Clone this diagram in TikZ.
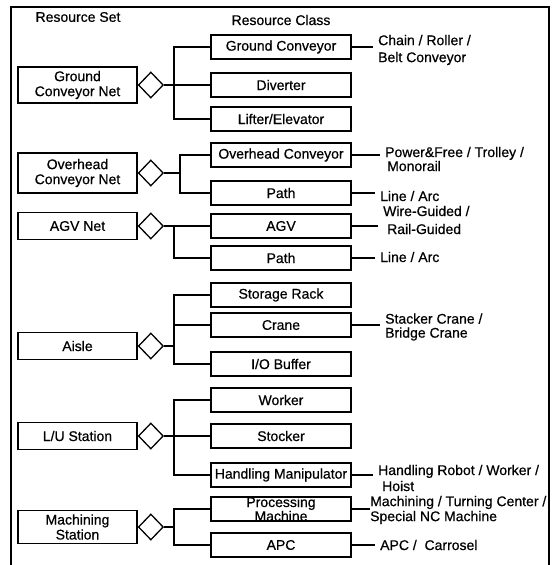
\documentclass[tikz,border=0pt]{standalone}
\usepackage{fontspec}
\setmainfont{Liberation Sans}[FakeBold=0.6]
\usetikzlibrary{shapes.geometric}
\begin{document}
\begin{tikzpicture}[x=1pt,y=-1pt,
  every node/.style={font=\fontsize{14}{15}\selectfont},
  setbox/.style={draw, line width=1.4pt, minimum width=119pt, align=center, inner sep=0pt},
  classbox/.style={draw, line width=1.4pt, minimum width=140pt, minimum height=24pt, inner sep=0pt},
  agg/.style={draw, diamond, line width=1.3pt, inner sep=0pt, minimum width=25pt, minimum height=26pt, anchor=west},
  conn/.style={line width=1.1pt},
  lbl/.style={anchor=west, align=left, inner xsep=5pt, inner ysep=0pt},
  hdr/.style={inner sep=0pt}]
\useasboundingbox (0,0) rectangle (554,565);
\draw[line width=1.5pt] (11,566) -- (11,7) -- (549,7) -- (549,566);

\node[hdr] (hset) at (78,17) {Resource Set};
\node[hdr] (hclass) at (281,20) {Resource Class};

% Group 1
\node[setbox, minimum height=36pt] (gcn) at (77.5,85) {Ground\\Conveyor Net};
\node[agg] (d1) at (gcn.east) {};
\node[classbox] (gc) at (281,47) {Ground Conveyor};
\node[classbox] (div) at (281,85) {Diverter};
\node[classbox] (lift) at (281,119) {Lifter/Elevator};
\coordinate (t1) at (174,85);
\draw[conn] (d1.east) -- (div.west);
\draw[conn] (gc.west) -| (t1);
\draw[conn] (lift.west) -| (t1);
\node[lbl, font=\fontsize{14}{17}\selectfont] (l1) at (373,50) {Chain / Roller /\\Belt Conveyor};
\draw[conn] (gc.east) -- (gc.east -| l1.west);

% Group 2
\node[setbox, minimum height=40pt] (ocn) at (77.5,173) {Overhead\\Conveyor Net};
\node[agg] (d2) at (ocn.east) {};
\node[classbox] (oc) at (281,155) {Overhead Conveyor};
\node[classbox] (path1) at (281,193) {Path};
\coordinate (t2) at (180,173);
\draw[conn] (d2.east) -- (t2);
\draw[conn] (oc.west) -| (t2);
\draw[conn] (path1.west) -| (t2);
\node[lbl, font=\fontsize{14}{14}\selectfont] (l2) at (380,159) {Power\&Free / Trolley /\\\hspace*{2pt}Monorail};
\draw[conn] (oc.east) -- (oc.east -| l2.west);
\node[lbl] (l3) at (375,196) {Line / Arc};
\draw[conn] (path1.east) -- (path1.east -| l3.west);

% Group 3
\node[setbox, minimum height=27pt] (agvn) at (77.5,226) {AGV Net};
\node[agg] (d3) at (agvn.east) {};
\node[classbox] (agv) at (281,226) {AGV};
\node[classbox] (path2) at (281,258) {Path};
\coordinate (t3) at (174,226);
\draw[conn] (d3.east) -- (agv.west);
\draw[conn] (path2.west) -| (t3);
\node[lbl, font=\fontsize{14}{18}\selectfont] (l4) at (378,220) {Wire-Guided /\\\hspace*{4pt}Rail-Guided};
\draw[conn] (agv.east) -- (agv.east -| l4.west);
\node[lbl] (l5) at (375,257) {Line / Arc};
\draw[conn] (path2.east) -- (path2.east -| l5.west);

% Group 4
\node[setbox, minimum height=27pt] (aisle) at (77.5,346) {Aisle};
\node[agg] (d4) at (aisle.east) {};
\node[classbox] (rack) at (281,295) {Storage Rack};
\node[classbox] (crane) at (281,325) {Crane};
\node[classbox] (iob) at (281,364) {I/O Buffer};
\coordinate (t4) at (174,346);
\draw[conn] (d4.east) -- (t4);
\draw[conn] (rack.west) -| (t4);
\draw[conn] (iob.west) -| (t4);
\draw[conn] (crane.west) -- (crane.west -| t4);
\node[lbl, font=\fontsize{14}{14}\selectfont] (l6) at (380,327) {Stacker Crane /\\Bridge Crane};
\draw[conn] (crane.east) -- (crane.east -| l6.west);

% Group 5
\node[setbox, minimum height=27pt] (lu) at (77.5,436) {L/U Station};
\node[agg] (d5) at (lu.east) {};
\node[classbox] (worker) at (281,400) {Worker};
\node[classbox] (stocker) at (281,436) {Stocker};
\node[classbox] (hm) at (281,475) {Handling Manipulator};
\coordinate (t5) at (174,436);
\draw[conn] (d5.east) -- (stocker.west);
\draw[conn] (worker.west) -| (t5);
\draw[conn] (hm.west) -| (t5);
\node[lbl, font=\fontsize{14}{16}\selectfont] (l7) at (373,478) {Handling Robot / Worker /\\\hspace*{4pt}Hoist};
\draw[conn] (hm.east) -- (hm.east -| l7.west);

% Group 6
\node[setbox, minimum height=33pt] (ms) at (77.5,527) {Machining\\Station};
\node[agg] (d6) at (ms.east) {};
\node[classbox, inner ysep=-2pt, align=center, font=\fontsize{14}{14}\selectfont] (pm) at (281,509) {Processing\\Machine};
\node[classbox] (apc) at (281,545) {APC};
\coordinate (t6) at (174,527);
\draw[conn] (d6.east) -- (t6);
\draw[conn] (pm.west) -| (t6);
\draw[conn] (apc.west) -| (t6);
\node[lbl, inner xsep=0pt, font=\fontsize{14}{15}\selectfont] (l8) at (370,510) {Machining / Turning Center /\\Special NC Machine};
\draw[conn] (pm.east) -- (pm.east -| l8.west);
\node[lbl] (l9) at (375,545) {APC /\ \ Carrosel};
\draw[conn] (apc.east) -- (apc.east -| l9.west);
\end{tikzpicture}
\end{document}
